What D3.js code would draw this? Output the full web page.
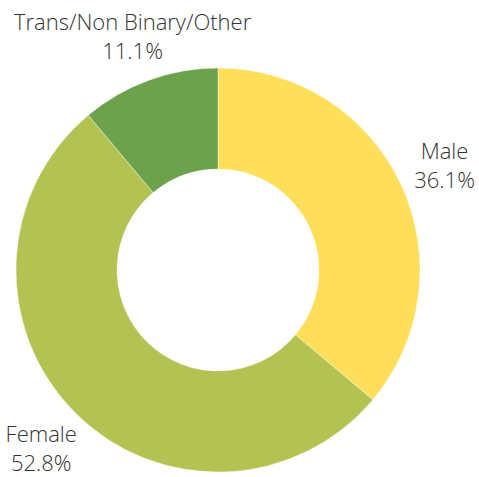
<!DOCTYPE html>
<html lang="en">
<head>
    <meta charset="UTF-8">
    <title>Gender</title>
    <script src="https://cdn.jsdelivr.net/npm/d3@7/dist/d3.min.js"></script>
    <style>
        body { margin: 0; background: #fff; }
        text {
            font-family: "Open Sans", sans-serif;
            font-weight: 300;
            font-size: 22px;
            fill: #333;
        }
    </style>
</head>
<body>
<svg id="main-svg" width="479" height="477"></svg>
<script>
    'use strict';
    // data
    const categories = ['Male', 'Female', 'Trans/Non Binary/Other'];
    const shares = [36.1, 52.8, 11.1];
    const colors = ['#FFDE59', '#B3C251', '#6BA24B'];

    const cx = 218, cy = 270;
    const outerR = 202, innerR = 101, labelR = 250;

    const data = categories.map((c, i) => ({name: c, value: shares[i], color: colors[i]}));

    const pie = d3.pie().sort(null).value(d => d.value);
    const arc = d3.arc().innerRadius(innerR).outerRadius(outerR);
    const labelArc = d3.arc().innerRadius(labelR).outerRadius(labelR);

    const g = d3.select('#main-svg').append('g')
        .attr('transform', `translate(${cx},${cy})`);

    const arcs = pie(data);

    g.selectAll('path')
        .data(arcs)
        .enter()
        .append('path')
        .attr('d', arc)
        .attr('fill', d => d.data.color)
        .attr('stroke', '#fff')
        .attr('stroke-width', 0.4);

    const labels = g.selectAll('g.label')
        .data(arcs)
        .enter()
        .append('g')
        .attr('class', 'label')
        .attr('transform', d => `translate(${labelArc.centroid(d)})`);

    labels.append('text')
        .attr('text-anchor', 'middle')
        .attr('y', -5)
        .text(d => d.data.name);

    labels.append('text')
        .attr('text-anchor', 'middle')
        .attr('y', 24)
        .text(d => d.data.value.toFixed(1) + '%');
</script>
</body>
</html>
